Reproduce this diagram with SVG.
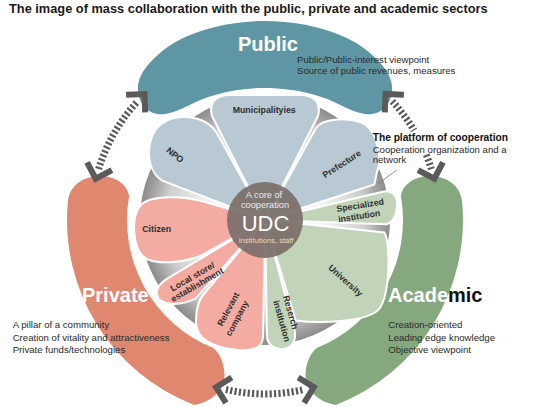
<svg xmlns="http://www.w3.org/2000/svg" width="536" height="407" viewBox="0 0 536 407">
<defs>
<radialGradient id="ringGrad" cx="265" cy="220" r="125" gradientUnits="userSpaceOnUse">
<stop offset="0" stop-color="#ffffff"/>
<stop offset="0.5" stop-color="#f1f1f1"/>
<stop offset="0.8" stop-color="#cecece"/>
<stop offset="0.92" stop-color="#a3a3a3"/>
<stop offset="1" stop-color="#8c8c8c"/>
</radialGradient>
<marker id="chev" markerUnits="userSpaceOnUse" orient="auto-start-reverse" overflow="visible" markerWidth="30" markerHeight="30" refX="0" refY="0">
<path d="M -3,-13 L 10,0 L -3,13" fill="none" stroke="#5a5a5a" stroke-width="6"/>
</marker>
</defs>
<style>
.t{font-family:"Liberation Sans",Arial,sans-serif}
.title{font-size:12.8px;font-weight:bold;fill:#1a1a1a}
.big{font-size:20px;font-weight:bold;fill:#ffffff}
.note{font-size:9.6px;fill:#2a2a2a}
.lbl{font-size:8.8px;font-weight:bold;fill:#2e2e2e}
.blue{fill:#b8c9d3;stroke:#ffffff;stroke-width:2}
.pink{fill:#f4aca2;stroke:#ffffff;stroke-width:2}
.green{fill:#c1d4b9;stroke:#ffffff;stroke-width:2}
.dash{fill:none;stroke:#5a5a5a;stroke-width:7;stroke-dasharray:2.2 2.2;marker-start:url(#chev);marker-end:url(#chev)}
</style>
<rect width="536" height="407" fill="#ffffff"/>
<text class="t title" x="9" y="13">The image of mass collaboration with the public, private and academic sectors</text>

<g id="public">
<path fill="#5e97a3" d="M 265,21 C 220,21 180,35 160,53 C 145,66 137,78 138,90 C 139,106 150,116 165,114 C 180,112 195,100 215,95 C 232,90 250,88 265,88 C 280,88 298,90 315,95 C 335,100 350,112 365,114 C 380,116 391,106 392,90 C 393,78 385,66 370,53 C 350,35 310,21 265,21 Z"/>
<text class="t big" x="268" y="51" text-anchor="middle">Public</text>
<text class="t note" x="297" y="63.3">Public/Public-interest viewpoint</text>
<text class="t note" x="297" y="74.3">Source of public revenues, measures</text>
</g>

<g id="private">
<path fill="#e0876f" d="M 67.8,202.7 C 69,185 84,176 100,176 C 115,176 127,184 129.1,196 A 138 138 0 0 0 213.3,348 C 222,355 226,370 224,380 C 222,393 208,403 194.1,404.9 A 198 198 0 0 1 67.8,202.7 Z"/>
<text class="t big" x="82" y="302">Private</text>
<text class="t note" x="12.7" y="328.3">A pillar of a community</text>
<text class="t note" x="12.7" y="340.6">Creation of vitality and attractiveness</text>
<text class="t note" x="12.7" y="352.8">Private funds/technologies</text>
</g>

<g id="academic">
<path fill="#86a87f" transform="translate(530,0) scale(-1,1)" d="M 67.8,202.7 C 69,185 84,176 100,176 C 115,176 127,184 129.1,196 A 138 138 0 0 0 213.3,348 C 222,355 226,370 224,380 C 222,393 208,403 194.1,404.9 A 198 198 0 0 1 67.8,202.7 Z"/>
<text class="t big" x="388" y="302">Acade<tspan fill="#111111">mic</tspan></text>
<text class="t note" x="388.3" y="328.3">Creation-oriented</text>
<text class="t note" x="388.3" y="340.6">Leading edge knowledge</text>
<text class="t note" x="388.3" y="352.8">Objective viewpoint</text>
</g>

<g id="connectors">
<path class="dash" d="M 98.6,169.1 A 174 174 0 0 1 137.7,101.3"/>
<path class="dash" d="M 392.3,101.3 A 174 174 0 0 1 414.1,130.4 M 426.3,154.8 A 174 174 0 0 1 431.4,169.1"/>
<path class="dash" d="M 225.9,389.5 A 174 174 0 0 0 304.1,389.5"/>
</g>

<g id="ring">
<circle cx="265" cy="220" r="125" fill="url(#ringGrad)"/>
</g>

<g id="municipalities">
<path class="blue" d="M 265,220 L 211.9,115.8 C 209,104 214,95 230,95 L 300,95 C 316,95 321,104 318.1,115.8 Z"/>
<text class="t lbl" x="264.2" y="113.3" text-anchor="middle">Municipalityies</text>
</g>
<g id="npo">
<path class="blue" d="M 265,220 L 216.5,132.5 C 205,115 175,112 160,125 C 145,138 145,170 162.3,180.6 Z"/>
<text class="t lbl" transform="translate(175,155) rotate(38)" y="3" text-anchor="middle">NPO</text>
</g>
<g id="prefecture">
<path class="blue" d="M 265,220 L 315.9,128.2 C 322,119 345,117 360,122 C 378,128 382,160 377,172 C 376,177 375,181 374.4,184.5 Z"/>
<text class="t lbl" transform="translate(341.7,164) rotate(-33)" y="3" text-anchor="middle">Prefecture</text>
</g>
<g id="specialized">
<path class="green" d="M 265,220 L 381.7,192 C 392,189 398,196 397,206 C 396,216 393,222 386.9,224.3 Z"/>
<text class="t lbl" transform="translate(337,212) rotate(-9)"><tspan x="0" y="0">Specialized</tspan><tspan x="0" y="10.5">institution</tspan></text>
</g>
<g id="university">
<path class="green" d="M 265,220 L 384.3,232.5 C 390,240 391,290 380,308 C 370,322 320,324 295.7,320.4 Z"/>
<text class="t lbl" transform="translate(345.5,280.5) rotate(42)" y="3" text-anchor="middle">University</text>
</g>
<g id="research">
<path class="green" d="M 265,220 L 294.8,331.1 C 297,345 287,350 281,349 C 272,348 267,343 267,335 Z"/>
<text class="t lbl" transform="translate(283,296.5) rotate(74)"><tspan x="0" y="0">Reserch</tspan><tspan x="2" y="11">institution</tspan></text>
</g>
<g id="relevant">
<path class="pink" d="M 265,220 L 262.9,338 C 262,349 250,351 238,350 C 218,348 196,342 196,322 C 196,308 199,299 204.6,293.3 Z"/>
<text class="t lbl" transform="translate(228.3,309.2) rotate(-62)" text-anchor="middle"><tspan x="0" y="3">Relevant</tspan><tspan x="-4" y="15">company</tspan></text>
</g>
<g id="localstore">
<path class="pink" d="M 265,220 L 179.3,271.5 C 168,278 155,284 157,295 C 159,305 178,307 195.4,298.6 Z"/>
<text class="t lbl" font-size="8.4px" transform="translate(192.5,276.7) rotate(-30)" text-anchor="middle"><tspan x="0" y="3">Local store/</tspan><tspan x="0" y="12.3">establishment</tspan></text>
</g>
<g id="citizen">
<path class="pink" d="M 265,220 L 205,202 C 185,196 150,194 140,206 C 130,220 133,252 147,259 C 160,265 185,262 200,256 Z"/>
<text class="t lbl" x="156.7" y="231.7" text-anchor="middle">Citizen</text>
</g>

<g id="udc">
<circle cx="265" cy="220" r="38" fill="#7b6f69" opacity="0.93"/>
<text class="t" x="264" y="198.3" text-anchor="middle" font-size="9.2px" fill="#ececec">A core of</text>
<text class="t" x="265" y="207.8" text-anchor="middle" font-size="9.2px" fill="#ececec">cooperation</text>
<text class="t" x="265.5" y="231" text-anchor="middle" font-size="22px" fill="#ffffff">UDC</text>
<text class="t" x="266" y="243.3" text-anchor="middle" font-size="7.6px" fill="#dddddd">Institutions, staff</text>
</g>

<g id="platform-note">
<text class="t" x="372.7" y="140.7" font-weight="bold" font-size="10.2px" fill="#111111">The platform of cooperation</text>
<text class="t note" x="372.7" y="152.7">Cooperation organization and a</text>
<text class="t note" x="372.7" y="163.3">network</text>
<line x1="396.7" y1="170" x2="378.5" y2="183.5" stroke="#777777" stroke-width="0.8"/>
</g>
</svg>
